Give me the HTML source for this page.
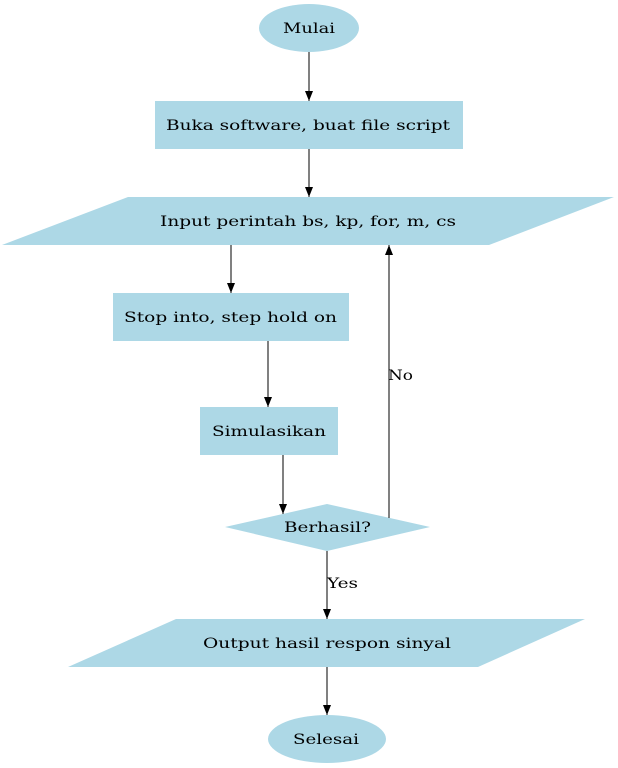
<!DOCTYPE html>
<html><head><meta charset="utf-8"><style>html,body{margin:0;padding:0;background:#fff}svg{display:block}</style></head>
<body>
<svg width="618" height="768" viewBox="0 0 618 768" xmlns="http://www.w3.org/2000/svg" font-family="DejaVu Serif, serif" font-size="14">
<defs><marker id="a" markerWidth="11" markerHeight="11" refX="10" refY="5" orient="auto" markerUnits="userSpaceOnUse"><path d="M0,1 L10,5 L0,9 Z" fill="#000"/></marker></defs>
<g fill="#add8e6">
<ellipse cx="309" cy="28" rx="50" ry="24"/>
<rect x="155" y="101" width="308" height="48"/>
<polygon points="128,197 614,197 489,245 2,245"/>
<rect x="113" y="293" width="236" height="48"/>
<rect x="200" y="407" width="138" height="48"/>
<polygon points="327,504 430,527 327,551 225,527"/>
<polygon points="176,619 585,619 478,667 68,667"/>
<ellipse cx="327" cy="739" rx="59" ry="24"/>
</g>
<g stroke="#000" stroke-width="1" fill="none" marker-end="url(#a)">
<line x1="309" y1="52" x2="309" y2="101"/>
<line x1="309" y1="149" x2="309" y2="197"/>
<line x1="231" y1="245" x2="231" y2="293"/>
<line x1="268" y1="341" x2="268" y2="407"/>
<line x1="283" y1="455" x2="283" y2="514"/>
<line x1="327" y1="551" x2="327" y2="619"/>
<line x1="389" y1="518" x2="389" y2="245"/>
<line x1="327" y1="667" x2="327" y2="715"/>
</g>
<g fill="#000">
<text x="283" y="33" textLength="52" lengthAdjust="spacingAndGlyphs">Mulai</text>
<text x="166" y="130" textLength="284" lengthAdjust="spacingAndGlyphs">Buka software, buat file script</text>
<text x="160" y="226" textLength="296" lengthAdjust="spacingAndGlyphs">Input perintah bs, kp, for, m, cs</text>
<text x="124" y="322" textLength="213" lengthAdjust="spacingAndGlyphs">Stop into, step hold on</text>
<text x="212" y="436" textLength="114" lengthAdjust="spacingAndGlyphs">Simulasikan</text>
<text x="284" y="532" textLength="87" lengthAdjust="spacingAndGlyphs">Berhasil?</text>
<text x="203" y="648" textLength="248" lengthAdjust="spacingAndGlyphs">Output hasil respon sinyal</text>
<text x="293" y="744" textLength="66" lengthAdjust="spacingAndGlyphs">Selesai</text>
<text x="327" y="588" textLength="31" lengthAdjust="spacingAndGlyphs">Yes</text>
<text x="388" y="380" textLength="25" lengthAdjust="spacingAndGlyphs">No</text>
</g>
</svg>
</body></html>
